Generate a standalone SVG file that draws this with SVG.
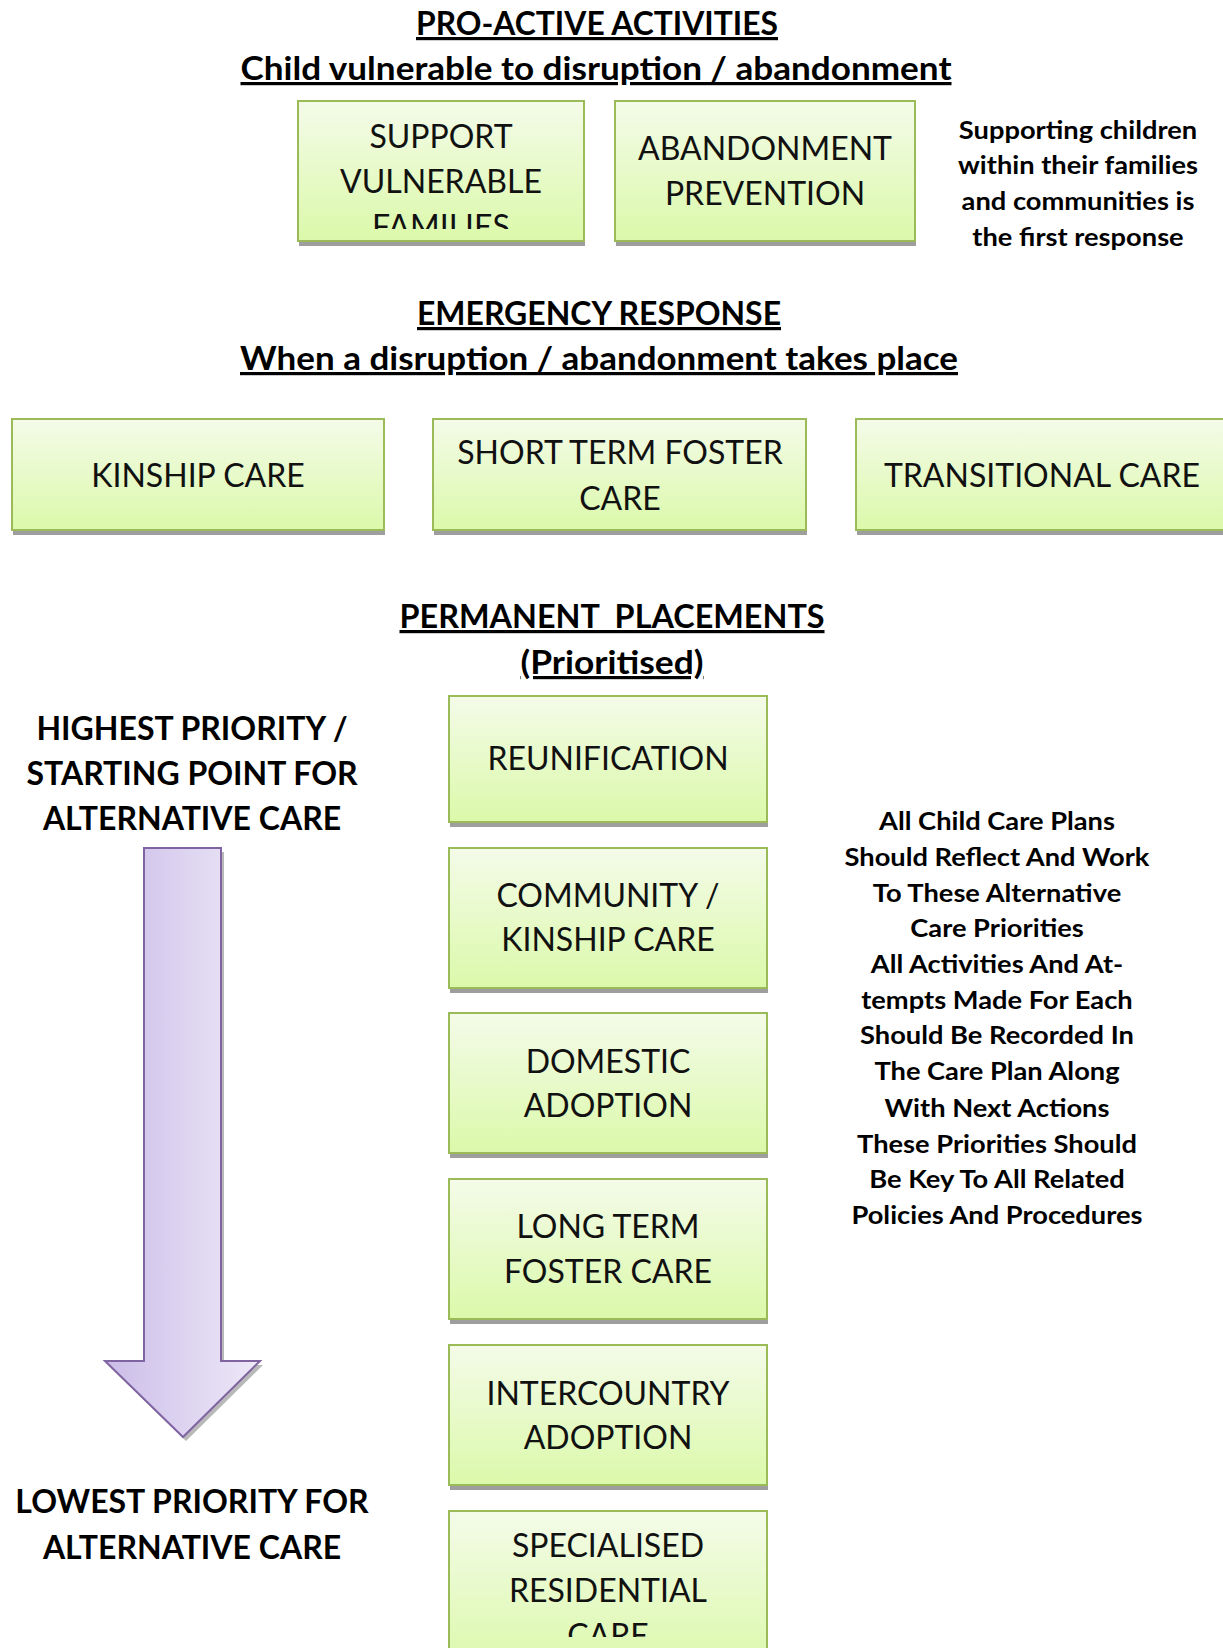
<svg xmlns="http://www.w3.org/2000/svg" width="1223" height="1648" viewBox="0 0 1223 1648">
<defs>
<linearGradient id="gbox" x1="0" y1="0" x2="0" y2="1">
<stop offset="0" stop-color="#f4fbe9"/>
<stop offset="1" stop-color="#dbf9aa"/>
</linearGradient>
<linearGradient id="garrow" x1="0" y1="0" x2="1" y2="0">
<stop offset="0" stop-color="#cbbde8"/>
<stop offset="1" stop-color="#eee9f8"/>
</linearGradient>
<clipPath id="c1"><rect x="298" y="101" width="286" height="128"/></clipPath>
<clipPath id="c2"><rect x="449" y="1511" width="318" height="126"/></clipPath>
</defs>
<style>
.box{fill:url(#gbox);stroke:#9bbb59;stroke-width:2}
.sh{fill:#9e9e9e}
.bt{font-family:Lato,"Open Sans",sans-serif;font-size:32px;fill:#111;text-anchor:middle}
.ti{font-family:Lato,"Open Sans",sans-serif;font-weight:bold;font-size:32px;fill:#000;text-anchor:middle;text-decoration:underline}
.side{font-family:Lato,"Open Sans",sans-serif;font-weight:bold;fill:#000;text-anchor:middle}
</style>
<rect width="1223" height="1648" fill="#fff"/>

<g id="titles">
<text class="ti" x="597" y="35" textLength="362" lengthAdjust="spacingAndGlyphs">PRO-ACTIVE ACTIVITIES</text>
<text class="ti" x="596" y="80" textLength="711" lengthAdjust="spacingAndGlyphs">Child vulnerable to disruption / abandonment</text>
<text class="ti" x="599" y="325" textLength="364" lengthAdjust="spacingAndGlyphs">EMERGENCY RESPONSE</text>
<text class="ti" x="599" y="370" textLength="718" lengthAdjust="spacingAndGlyphs">When a disruption / abandonment takes place</text>
<text class="ti" x="612" y="628" xml:space="preserve" textLength="425" lengthAdjust="spacingAndGlyphs">PERMANENT  PLACEMENTS</text>
<text class="ti" x="612" y="674" textLength="183" lengthAdjust="spacingAndGlyphs">(Prioritised)</text>
</g>

<g id="n-support">
<rect class="sh" x="299" y="106" width="286" height="140"/>
<rect class="box" x="298" y="101" width="286" height="140"/>
<g clip-path="url(#c1)">
<text class="bt" x="441" y="148">SUPPORT</text>
<text class="bt" x="441" y="193">VULNERABLE</text>
<text class="bt" x="441" y="238">FAMILIES</text>
</g>
</g>
<g id="n-abandon">
<rect class="sh" x="616" y="106" width="300" height="140"/>
<rect class="box" x="615" y="101" width="300" height="140"/>
<text class="bt" x="765" y="160">ABANDONMENT</text>
<text class="bt" x="765" y="205">PREVENTION</text>
</g>
<g id="t-supporting" transform="translate(1078 0) scale(1.07 1) translate(-1078 0)">
<text class="side" font-size="25.5" x="1078" y="139">Supporting children</text>
<text class="side" font-size="25.5" x="1078" y="174">within their families</text>
<text class="side" font-size="25.5" x="1078" y="210">and communities is</text>
<text class="side" font-size="25.5" x="1078" y="246">the first response</text>
</g>

<g id="n-kinship">
<rect class="sh" x="13" y="424" width="372" height="111"/>
<rect class="box" x="12" y="419" width="372" height="111"/>
<text class="bt" x="198" y="487">KINSHIP CARE</text>
</g>
<g id="n-short">
<rect class="sh" x="434" y="424" width="373" height="111"/>
<rect class="box" x="433" y="419" width="373" height="111"/>
<text class="bt" x="620" y="464">SHORT TERM FOSTER</text>
<text class="bt" x="620" y="510">CARE</text>
</g>
<g id="n-transitional">
<rect class="sh" x="857" y="424" width="380" height="111"/>
<rect class="box" x="856" y="419" width="380" height="111"/>
<text class="bt" x="1042" y="487">TRANSITIONAL CARE</text>
</g>

<g id="n-reunification">
<rect class="sh" x="450" y="701" width="318" height="126"/>
<rect class="box" x="449" y="696" width="318" height="126"/>
<text class="bt" x="608" y="770">REUNIFICATION</text>
</g>
<g id="n-community">
<rect class="sh" x="450" y="853" width="318" height="140"/>
<rect class="box" x="449" y="848" width="318" height="140"/>
<text class="bt" x="608" y="907">COMMUNITY /</text>
<text class="bt" x="608" y="951">KINSHIP CARE</text>
</g>
<g id="n-domestic">
<rect class="sh" x="450" y="1018" width="318" height="140"/>
<rect class="box" x="449" y="1013" width="318" height="140"/>
<text class="bt" x="608" y="1073">DOMESTIC</text>
<text class="bt" x="608" y="1117">ADOPTION</text>
</g>
<g id="n-longterm">
<rect class="sh" x="450" y="1184" width="318" height="140"/>
<rect class="box" x="449" y="1179" width="318" height="140"/>
<text class="bt" x="608" y="1238">LONG TERM</text>
<text class="bt" x="608" y="1283">FOSTER CARE</text>
</g>
<g id="n-intercountry">
<rect class="sh" x="450" y="1350" width="318" height="140"/>
<rect class="box" x="449" y="1345" width="318" height="140"/>
<text class="bt" x="608" y="1405">INTERCOUNTRY</text>
<text class="bt" x="608" y="1449">ADOPTION</text>
</g>
<g id="n-specialised">
<rect class="sh" x="450" y="1516" width="318" height="160"/>
<rect class="box" x="449" y="1511" width="318" height="160"/>
<g clip-path="url(#c2)">
<text class="bt" x="608" y="1557">SPECIALISED</text>
<text class="bt" x="608" y="1602">RESIDENTIAL</text>
<text class="bt" x="608" y="1647">CARE</text>
</g>
</g>

<g id="t-highest">
<text class="side" font-size="32" x="192" y="740">HIGHEST PRIORITY /</text>
<text class="side" font-size="32" x="192" y="785">STARTING POINT FOR</text>
<text class="side" font-size="32" x="192" y="830">ALTERNATIVE CARE</text>
</g>
<g id="arrow">
<polygon points="147,852 224,852 224,1365 263,1365 186,1441 108,1365 147,1365" fill="#8a8a8a" opacity="0.6"/>
<polygon points="144,848 221,848 221,1361 260,1361 183,1437 105,1361 144,1361" fill="url(#garrow)" stroke="#8064a2" stroke-width="2"/>
</g>
<g id="t-lowest">
<text class="side" font-size="32" x="192" y="1513">LOWEST PRIORITY FOR</text>
<text class="side" font-size="32" x="192" y="1559">ALTERNATIVE CARE</text>
</g>

<g id="t-plans" class="side" font-size="25.5" transform="translate(997 0) scale(1.07 1) translate(-997 0)">
<text x="997" y="830">All Child Care Plans</text>
<text x="997" y="866">Should Reflect And Work</text>
<text x="997" y="902">To These Alternative</text>
<text x="997" y="937">Care Priorities</text>
<text x="997" y="973">All Activities And At-</text>
<text x="997" y="1009">tempts Made For Each</text>
<text x="997" y="1044">Should Be Recorded In</text>
<text x="997" y="1080">The Care Plan Along</text>
<text x="997" y="1117">With Next Actions</text>
<text x="997" y="1153">These Priorities Should</text>
<text x="997" y="1188">Be Key To All Related</text>
<text x="997" y="1224">Policies And Procedures</text>
</g>
<g id="connectors"/>
</svg>
